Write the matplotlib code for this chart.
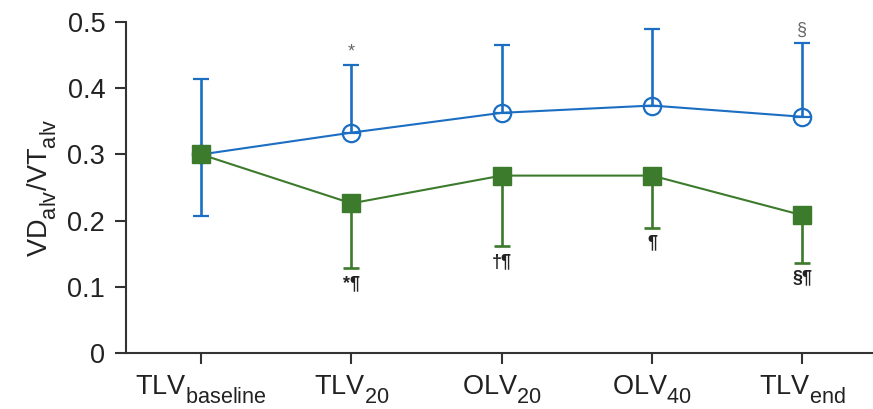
import numpy as np
import matplotlib
import matplotlib.pyplot as plt

plt.rcParams['font.family'] = ['Liberation Sans', 'DejaVu Sans']
plt.rcParams['mathtext.default'] = 'regular'
# subscripts in the original are larger and sit lower than mathtext's defaults
matplotlib._mathtext.SHRINK_FACTOR = 0.8
matplotlib._mathtext.FontConstantsBase.sub1 = 0.65

# categories and values
labels = ['TLV$_{baseline}$', 'TLV$_{20}$', 'OLV$_{20}$', 'OLV$_{40}$', 'TLV$_{end}$']
blue_mean = [0.30, 0.333, 0.363, 0.374, 0.357]
blue_top = [0.414, 0.436, 0.466, 0.490, 0.469]
blue_bot = [0.207, 0.333, 0.363, 0.374, 0.357]
green_mean = [0.30, 0.226, 0.268, 0.268, 0.208]
green_bot = [0.30, 0.128, 0.161, 0.189, 0.136]
top_marks = ['', '*', '', '', '§']
bot_marks = ['', '*¶', '†¶', '¶', '§¶']

blue = '#1b6ec2'
green = '#3c7a2c'
axcol = '#333333'

x = np.arange(len(labels))
bm = np.array(blue_mean); gm = np.array(green_mean)

fig = plt.figure(figsize=(8.73, 4.09), dpi=100)
ax = fig.add_axes([0.1443, 0.1377, 0.8557, 0.8078])

ax.errorbar(x, bm, yerr=[bm - np.array(blue_bot), np.array(blue_top) - bm],
            color=blue, lw=1.5, marker='o', ms=12.5, mfc='none', mec=blue, mew=1.6,
            ecolor=blue, elinewidth=1.9, capsize=6, capthick=1.9, clip_on=False, zorder=3)
ax.errorbar(x, gm, yerr=[gm - np.array(green_bot), np.zeros(len(x))],
            color=green, lw=1.5, marker='s', ms=13, mfc=green, mec=green,
            ecolor=green, elinewidth=1.9, capsize=6, capthick=1.9, clip_on=False, zorder=4)

for i in range(len(x)):
    if top_marks[i]:
        ax.annotate(top_marks[i], (x[i], blue_top[i]), xytext=(0, 3), textcoords='offset points',
                    ha='center', va='bottom', fontsize=13, color='#666666')
    if bot_marks[i]:
        ax.annotate(bot_marks[i], (x[i], green_bot[i]), xytext=(0, -5), textcoords='offset points',
                    ha='center', va='top', fontsize=13, fontweight='bold', color='#222222')

ax.set_xlim(-0.5, 4.47)
ax.set_ylim(0, 0.5)
ax.set_yticks([0, 0.1, 0.2, 0.3, 0.4, 0.5])
ax.set_yticklabels(['0', '0.1', '0.2', '0.3', '0.4', '0.5'])
ax.set_xticks(x)
ax.set_xticklabels(labels)
ax.tick_params(axis='both', direction='out', length=8, width=1.5, color=axcol,
               labelsize=19.5, labelcolor='#222222')
ax.tick_params(axis='x', pad=7)
ax.tick_params(axis='y', pad=7)
ax.set_ylabel('VD$_{alv}$/VT$_{alv}$', fontsize=19.5, color='#222222', labelpad=6)

for s in ['top', 'right']:
    ax.spines[s].set_visible(False)
for s in ['left', 'bottom']:
    ax.spines[s].set_color(axcol)
    ax.spines[s].set_linewidth(1.5)

fig.savefig('out.png', dpi=100)
